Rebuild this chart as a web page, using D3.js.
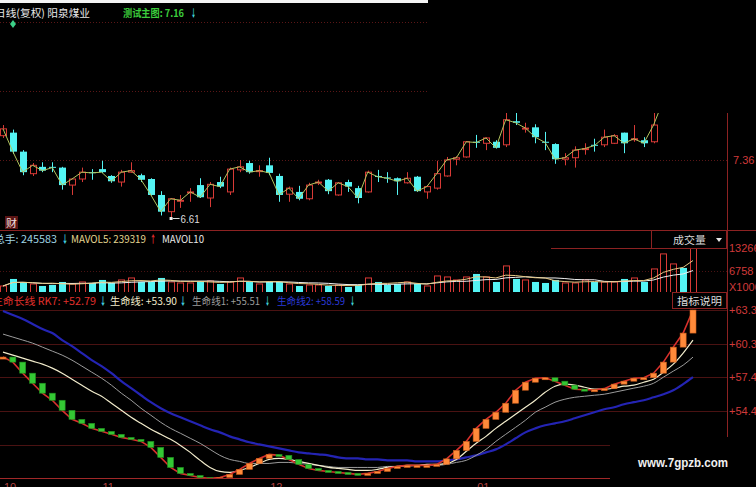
<!DOCTYPE html>
<html><head><meta charset="utf-8">
<script src="https://cdn.jsdelivr.net/npm/d3@7"></script>
<style>
html,body{margin:0;padding:0;background:#000;}
svg{display:block;}
text{font-family:"Noto Sans CJK SC","Liberation Sans",sans-serif;}
</style></head><body>
<svg id="c" width="756" height="487"></svg>
<script>
// ---------- data ----------
const openP  = [7.68,7.72,7.47,7.18,7.27,7.27,7.26,7.03,7.11,7.20,7.24,7.15,7.07,7.20,7.16,7.11,6.90,6.68,6.82,6.93,7.03,6.86,7.07,6.94,7.23,7.32,7.21,7.29,7.15,6.91,6.94,6.85,7.06,7.10,6.90,7.07,6.99,6.94,7.15,7.13,7.12,7.06,7.14,6.94,6.99,7.15,7.37,7.40,7.60,7.58,7.60,7.56,7.87,7.77,7.79,7.60,7.57,7.37,7.39,7.50,7.56,7.56,7.58,7.72,7.63,7.62,7.60,8.02,8.15,8.30,8.16];
const highP  = [7.82,7.76,7.49,7.32,7.33,7.33,7.27,7.12,7.26,7.24,7.35,7.16,7.23,7.33,7.18,7.12,6.95,6.86,6.90,6.99,7.12,7.07,7.14,7.26,7.36,7.35,7.29,7.39,7.18,7.01,7.02,7.06,7.10,7.11,7.07,7.10,7.02,7.22,7.23,7.20,7.13,7.20,7.15,7.03,7.35,7.40,7.41,7.61,7.69,7.66,7.62,7.98,7.98,7.85,7.83,7.73,7.58,7.45,7.54,7.58,7.64,7.76,7.70,7.72,7.82,7.66,7.98,8.20,8.35,8.35,8.50];
const lowP   = [7.65,7.44,7.16,7.15,7.20,7.20,6.97,6.90,7.07,7.10,7.19,7.06,7.01,7.19,7.07,6.89,6.63,6.61,6.73,6.81,6.86,6.74,6.99,6.90,7.20,7.18,7.14,7.16,6.81,6.81,6.83,6.83,7.03,6.91,6.89,6.94,6.79,6.93,7.07,7.06,6.90,7.05,6.94,6.85,6.97,7.14,7.29,7.39,7.52,7.49,7.51,7.53,7.82,7.72,7.58,7.49,7.31,7.29,7.26,7.43,7.47,7.53,7.57,7.45,7.60,7.53,7.58,8.00,8.10,8.12,8.14];
const closeP = [7.77,7.47,7.20,7.29,7.22,7.26,7.03,7.11,7.20,7.19,7.20,7.08,7.20,7.22,7.10,6.90,6.68,6.85,6.83,6.94,6.87,7.04,7.01,7.24,7.27,7.20,7.22,7.19,6.90,6.99,6.85,7.03,7.07,6.95,7.06,7.01,6.86,7.20,7.14,7.12,7.08,7.12,6.95,7.01,7.18,7.36,7.39,7.60,7.59,7.65,7.52,7.89,7.85,7.78,7.66,7.59,7.37,7.39,7.49,7.51,7.55,7.66,7.68,7.58,7.64,7.58,7.82,8.15,8.30,8.16,8.45];
const volume = [2546,4526,3678,3112,2546,2829,3678,3112,3678,3395,4244,3395,4244,4809,3678,3678,4809,3678,3395,3395,3961,3961,3112,3678,4809,3678,3112,3678,3678,3112,2546,2829,2829,2546,2829,2263,2829,4809,3678,2829,3112,3678,3112,2546,5375,5092,4244,5092,5941,5092,3678,8204,4526,4244,3678,3395,4244,3395,3395,4244,3678,3678,3678,4526,4809,3678,7355,11599,8770,7638,13266];
const rk7   = [59.21,58.77,57.80,56.92,56.05,55.43,54.55,53.76,53.41,52.97,52.71,52.45,52.18,52.01,51.83,51.31,50.43,49.55,49.03,48.85,48.67,48.59,48.67,48.94,49.38,49.90,50.34,50.69,50.61,50.25,49.82,49.46,49.29,49.20,49.11,49.03,48.94,49.03,49.20,49.46,49.64,49.73,49.73,49.73,49.82,50.30,51.04,51.83,52.97,53.76,54.38,55.17,56.31,57.01,57.36,57.40,57.10,56.75,56.40,56.35,56.35,56.45,56.84,57.10,57.36,57.40,57.80,58.77,60.08,61.31,63.33];
const life  = [59.64,59.38,59.12,58.85,58.59,58.24,57.80,57.27,56.75,56.22,55.78,55.17,54.55,53.94,53.41,52.89,52.45,52.01,51.48,50.87,50.17,49.55,49.20,49.11,49.29,49.55,49.90,50.25,50.34,50.25,50.08,49.90,49.73,49.55,49.46,49.38,49.29,49.29,49.38,49.55,49.64,49.73,49.73,49.82,49.82,49.90,50.25,50.96,51.66,52.27,52.97,53.59,54.20,54.82,55.43,56.13,56.66,56.84,56.75,56.57,56.40,56.40,56.49,56.66,56.75,57.01,57.27,57.89,58.59,59.56,60.70];
const life1 = [61.22,60.96,60.70,60.43,60.08,59.73,59.38,58.94,58.42,57.89,57.36,56.75,56.05,55.43,54.73,54.12,53.50,52.97,52.54,52.10,51.66,51.13,50.61,50.25,50.08,49.90,49.90,49.90,49.99,49.99,49.90,49.82,49.73,49.64,49.55,49.55,49.55,49.55,49.55,49.64,49.64,49.64,49.73,49.73,49.73,49.82,49.99,50.17,50.61,51.13,51.83,52.45,53.06,53.68,54.38,54.82,55.26,55.52,55.69,55.78,55.87,55.96,56.13,56.31,56.49,56.66,56.92,57.45,57.98,58.50,59.21];
const life2 = [63.24,62.89,62.54,62.10,61.66,61.31,60.70,60.17,59.56,58.94,58.42,57.80,57.10,56.49,55.87,55.26,54.73,54.29,53.94,53.59,53.24,52.89,52.62,52.27,52.01,51.75,51.57,51.39,51.22,51.04,50.87,50.78,50.69,50.61,50.43,50.34,50.34,50.25,50.25,50.17,50.17,50.17,50.08,50.08,50.08,50.17,50.25,50.43,50.61,50.87,51.13,51.57,52.10,52.62,52.97,53.24,53.41,53.59,53.85,54.12,54.38,54.64,54.82,55.08,55.26,55.43,55.69,55.96,56.31,56.84,57.45];
const priceTicks = [7.36];
const priceGrid  = [7.36, 8.27, 9.18];
const volTicks   = [13266, 6758];
const indTicks   = [63.33, 60.39, 57.44, 54.49];
const indGrid    = [63.33, 60.39, 57.44, 54.49, 51.54, 48.60];
const monthIdx    = [0, 10, 27, 48];
const monthLabels = ["10", "11", "12", "01"];
const lowIndex = 17, lowLabel = "6.61";

// ---------- scales ----------
const N = closeP.length;
const svg = d3.select("#c");
const x  = d3.scaleLinear().domain([0, N - 1]).range([3, 693]);
const yP = d3.scaleLinear().domain([6.61, 7.36]).range([217, 160]);
const yV = d3.scaleLinear().domain([0, 13266]).range([295, 248]);
const yI = d3.scaleLinear().domain([54.49, 63.33]).range([411, 310]);

const RED = "#d83a36", CYAN = "#54f4f4", AXIS = "#8c2222", GRID = "#4a1212", ARROW = "#48e0f0";
const FS = 10.5;
svg.append("rect").attr("width", 756).attr("height", 487).attr("fill", "#000");

// text helper: extents
function label(x0, yb, w, color, str, opt = {}) {
  const t = svg.append("text").attr("x", x0).attr("y", yb).attr("fill", color)
    .attr("font-size", opt.size || FS).text(str);
  if (w) t.attr("textLength", w).attr("lengthAdjust", "spacingAndGlyphs");
  if (opt.bold) t.attr("font-weight", "bold");
  if (opt.latin) t.style("font-family", "Liberation Sans, sans-serif");
  return t;
}

const defs = svg.append("defs");
defs.append("clipPath").attr("id", "cp").append("rect").attr("x", 0).attr("y", 18).attr("width", 727).attr("height", 211);
defs.append("clipPath").attr("id", "cv").append("rect").attr("x", 0).attr("y", 249).attr("width", 727).attr("height", 43);
defs.append("clipPath").attr("id", "ci").append("rect").attr("x", 0).attr("y", 309).attr("width", 727).attr("height", 169);

// ---------- price panel ----------
const gp = svg.append("g").attr("clip-path", "url(#cp)");
gp.selectAll("line.grid").data(priceGrid).join("line")
  .attr("x1", 0).attr("x2", 727).attr("y1", d => Math.round(yP(d)) + 0.5).attr("y2", d => Math.round(yP(d)) + 0.5)
  .attr("stroke", "#5a1616").attr("stroke-dasharray", "1,2");

const idx = d3.range(N);
const up = i => closeP[i] >= openP[i];
gp.selectAll("line.wick").data(idx).join("line")
  .attr("x1", i => Math.round(x(i)) + 0.5).attr("x2", i => Math.round(x(i)) + 0.5)
  .attr("y1", i => yP(highP[i])).attr("y2", i => yP(lowP[i]))
  .attr("stroke", i => up(i) ? RED : CYAN).attr("stroke-width", 1);
gp.selectAll("rect.body").data(idx).join("rect")
  .attr("x", i => Math.round(x(i)) - 3 + (up(i) ? 0.5 : 0))
  .attr("width", i => up(i) ? 6 : 7)
  .attr("y", i => Math.min(yP(openP[i]), yP(closeP[i])))
  .attr("height", i => Math.max(1, Math.abs(yP(openP[i]) - yP(closeP[i]))))
  .attr("fill", i => up(i) ? "#000" : CYAN)
  .attr("stroke", i => up(i) ? RED : "none");
gp.append("path").datum(idx)
  .attr("d", d3.line().x(i => x(i)).y(i => yP(closeP[i])))
  .attr("fill", "none").attr("stroke", "#b2c45e").attr("stroke-width", 1);

// low marker
const lx = x(lowIndex), ly = yP(lowP[lowIndex]);
svg.append("rect").attr("x", lx - 1).attr("y", ly).attr("width", 3).attr("height", 3).attr("fill", "#eee");
svg.append("line").attr("x1", lx + 2).attr("x2", lx + 9).attr("y1", ly + 1.5).attr("y2", ly + 1.5).attr("stroke", "#ddd");
label(lx + 10, ly + 5.5, 19, "#ddd", lowLabel, {latin: true});

// 财 badge
svg.append("rect").attr("x", 5).attr("y", 216).attr("width", 13).attr("height", 13).attr("fill", "#5a1414");
label(6, 227, 11, "#f0e0e0", "财");

// title
label(-5, 17, 95, "#e8e8e8", "日线(复权) 阳泉煤业");
label(123, 17, 61, "#3ccc3c", "测试主图: 7.16", {bold: true});
label(191, 17, 5, ARROW, "↓", {bold: true});
svg.append("path").attr("d", "M13,20 L16,24 L13,28 L10,24 Z").attr("fill", "#3cd088");

// price axis label
svg.selectAll("text.pt").data(priceTicks).join("text")
  .attr("x", 733).attr("y", d => yP(d) + 4).attr("fill", "#d03a3a").attr("font-size", 11)
  .style("font-family", "Liberation Sans, sans-serif").text(d => d.toFixed(2));

// top-right masked region
svg.append("rect").attr("x", 428).attr("y", 0).attr("width", 328).attr("height", 113).attr("fill", "#000");
svg.append("rect").attr("x", 0).attr("y", 0).attr("width", 428).attr("height", 3).attr("fill", "#f4f4f4");

// ---------- volume panel ----------
svg.append("line").attr("x1", 0).attr("x2", 756).attr("y1", 230.5).attr("y2", 230.5).attr("stroke", AXIS);
svg.append("line").attr("x1", 551).attr("x2", 727).attr("y1", 248.5).attr("y2", 248.5).attr("stroke", AXIS);
svg.append("rect").attr("x", 651.5).attr("y", 230.5).attr("width", 75).attr("height", 18).attr("fill", "#000").attr("stroke", AXIS);
label(673, 244, 33, "#d8d8d8", "成交量");
svg.append("path").attr("d", "M716,238 L722,238 L719,242 Z").attr("fill", "#e8e8e8");

const gv = svg.append("g").attr("clip-path", "url(#cv)");
gv.selectAll("line.vg").data([volTicks[1]]).join("line")
  .attr("x1", 0).attr("x2", 727).attr("y1", d => Math.round(yV(d)) + 0.5).attr("y2", d => Math.round(yV(d)) + 0.5)
  .attr("stroke", GRID).attr("stroke-dasharray", "1,2");
gv.selectAll("rect.vol").data(idx).join("rect")
  .attr("x", i => Math.round(x(i)) - 3 + (up(i) ? 0.5 : 0))
  .attr("width", i => up(i) ? 6 : 7)
  .attr("y", i => yV(volume[i]))
  .attr("height", i => 293 - yV(volume[i]))
  .attr("fill", i => up(i) ? "none" : CYAN)
  .attr("stroke", i => up(i) ? RED : "none");
const ma = (arr, n) => arr.map((_, i) => d3.mean(arr.slice(Math.max(0, i - n + 1), i + 1)));
const mav5 = ma(volume, 5), mav10 = ma(volume, 10);
gv.append("path").datum(mav10).attr("d", d3.line().x((d, i) => x(i)).y(d => yV(d)))
  .attr("fill", "none").attr("stroke", "#f0f0f0").attr("stroke-width", 1);
gv.append("path").datum(mav5).attr("d", d3.line().x((d, i) => x(i)).y(d => yV(d)))
  .attr("fill", "none").attr("stroke", "#e6c884").attr("stroke-width", 1);

label(-6, 243, 63, "#9fd4e4", "总手: 245583");
label(62, 243, 6, ARROW, "↓", {bold: true});
label(71, 243, 75, "#e4d690", "MAVOL5: 239319");
label(150, 243, 6, "#f03030", "↑", {bold: true});
label(162, 243, 42, "#e8e8e8", "MAVOL10");

svg.selectAll("text.vt").data(volTicks).join("text")
  .attr("x", 729).attr("y", d => yV(d) + 4).attr("fill", "#d03a3a").attr("font-size", 11)
  .style("font-family", "Liberation Sans, sans-serif").text(d => d);
svg.append("text").attr("x", 729).attr("y", 291).attr("fill", "#d03a3a").attr("font-size", 11)
  .style("font-family", "Liberation Sans, sans-serif").text("X1000");

// ---------- indicator panel ----------
const gi = svg.append("g").attr("clip-path", "url(#ci)");
gi.selectAll("line.ig").data(indGrid).join("line")
  .attr("x1", 0).attr("x2", 727).attr("y1", d => Math.round(yI(d)) + 0.5).attr("y2", d => Math.round(yI(d)) + 0.5)
  .attr("stroke", GRID);
const lineI = arr => d3.line().curve(d3.curveMonotoneX).x((d, i) => x(i)).y(d => yI(d))(arr);
gi.append("path").attr("d", lineI(life2)).attr("fill", "none").attr("stroke", "#2424b4").attr("stroke-width", 2.2);
gi.append("path").attr("d", lineI(life1)).attr("fill", "none").attr("stroke", "#9c9c9c").attr("stroke-width", 1);
gi.append("path").attr("d", lineI(life)).attr("fill", "none").attr("stroke", "#f2eccc").attr("stroke-width", 1.2);
gi.append("path").attr("d", d3.line().x((d, i) => x(i)).y(d => yI(d))(rk7)).attr("fill", "none").attr("stroke", "#d8302c").attr("stroke-width", 1.6);
gi.selectAll("rect.rk").data(idx).join("rect")
  .attr("x", i => x(i) - 3).attr("width", 6)
  .attr("y", i => Math.min(yI(rk7[Math.max(0, i - 1)]), yI(rk7[i])))
  .attr("height", i => Math.max(2, Math.abs(yI(rk7[Math.max(0, i - 1)]) - yI(rk7[i]))))
  .attr("fill", i => (i > 0 && rk7[i] < rk7[i - 1]) ? "#34c834" : "#ff8a3a")
  .attr("stroke", i => (i > 0 && rk7[i] < rk7[i - 1]) ? "#1e8e1e" : "#c85a1a").attr("stroke-width", 0.6);

svg.append("line").attr("x1", 0).attr("x2", 727).attr("y1", 478.5).attr("y2", 478.5).attr("stroke", "#a02828");
svg.selectAll("text.mt").data(monthIdx).join("text")
  .attr("x", i => x(i) + 1).attr("y", 491).attr("fill", "#b04040").attr("font-size", 11)
  .style("font-family", "Liberation Sans, sans-serif").text((d, k) => monthLabels[k]);

label(-8, 305, 104, "#e0302c", "生命长线 RK7: +52.79");
label(100, 305, 6, ARROW, "↓", {bold: true});
label(110, 305, 67, "#f2eccc", "生命线: +53.90");
label(180, 305, 6, ARROW, "↓", {bold: true});
label(192, 305, 68, "#9c9c9c", "生命线1: +55.51");
label(265, 305, 5, ARROW, "↓", {bold: true});
label(277, 305, 68, "#2a3ad8", "生命线2: +58.59");
label(350, 305, 5, ARROW, "↓", {bold: true});

svg.append("rect").attr("x", 672.5).attr("y", 292.5).attr("width", 54).attr("height", 16).attr("fill", "#000").attr("stroke", AXIS);
label(677, 305, 45, "#dcdcdc", "指标说明");

svg.selectAll("text.it").data(indTicks).join("text")
  .attr("x", 729).attr("y", d => yI(d) + 4).attr("fill", "#d03a3a").attr("font-size", 11)
  .style("font-family", "Liberation Sans, sans-serif").text(d => "+" + d.toFixed(2));

// right axis
svg.append("line").attr("x1", 727.5).attr("x2", 727.5).attr("y1", 113).attr("y2", 478).attr("stroke", AXIS);

// watermark
svg.append("rect").attr("x", 610).attr("y", 437).attr("width", 146).attr("height", 50).attr("fill", "#000");
label(638, 467, 90, "#f0f0f0", "www.7gpzb.com", {size: 12, bold: true, latin: true});
</script></body></html>
